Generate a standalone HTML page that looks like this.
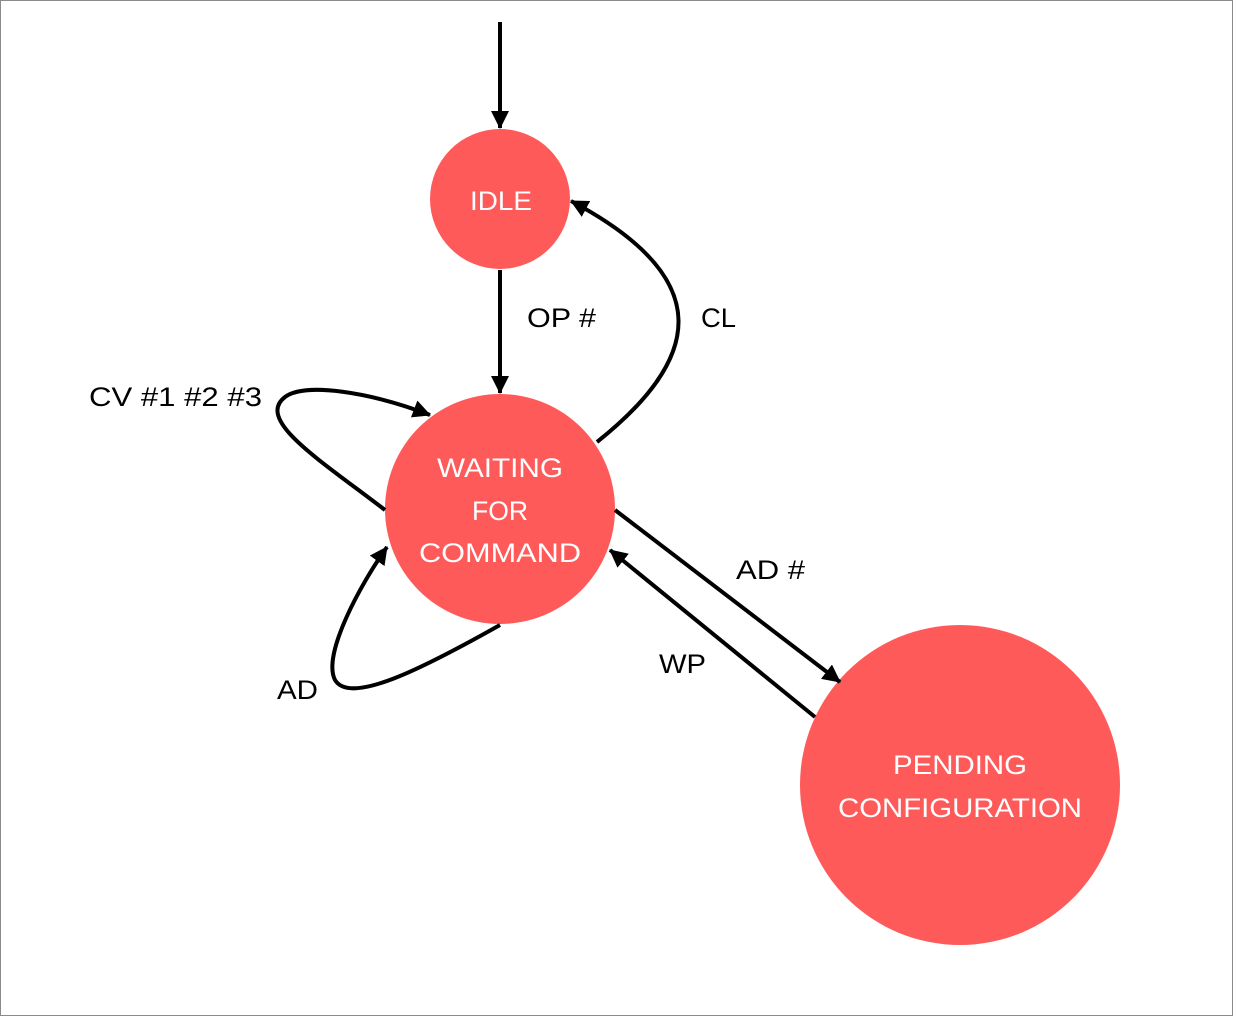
<!DOCTYPE html>
<html><head><meta charset="utf-8"><style>
html,body{margin:0;padding:0;background:#fff}
svg{display:block}
text{font-family:"Liberation Sans",sans-serif;font-size:27px}
</style></head><body>
<svg width="1233" height="1016" viewBox="0 0 1233 1016">
<defs>
<marker id="a" markerUnits="userSpaceOnUse" markerWidth="22" markerHeight="22" refX="17" refY="9" orient="auto">
<path d="M0,0 L18,9 L0,18 Z" fill="#000"/>
</marker>
</defs>
<rect x="0.5" y="0.5" width="1232" height="1015" fill="#fff" stroke="#8a8a8a"/>
<circle cx="500" cy="199" r="70" fill="#ff5a5a"/>
<circle cx="500" cy="509" r="115" fill="#ff5a5a"/>
<circle cx="960" cy="785" r="160" fill="#ff5a5a"/>
<g fill="none" stroke="#000" stroke-width="4">
<path d="M500,22 L500,128" marker-end="url(#a)"/>
<path d="M500,270 L500,393" marker-end="url(#a)"/>
<path d="M597,442 C700,360 720,280 571,201" marker-end="url(#a)"/>
<path d="M385,510 C320,460 255,420 285,397 C305,382 370,392 430,415" marker-end="url(#a)"/>
<path d="M500,625 C420,670 350,705 335,680 C322,655 360,585 387,547" marker-end="url(#a)"/>
<path d="M615,510 L840,682" marker-end="url(#a)"/>
<path d="M815,717 L610,550" marker-end="url(#a)"/>
</g>
<g fill="#fff">
<text x="470" y="210" textLength="62" lengthAdjust="spacingAndGlyphs">IDLE</text>
<text x="437" y="477" textLength="126" lengthAdjust="spacingAndGlyphs">WAITING</text>
<text x="472" y="520" textLength="56" lengthAdjust="spacingAndGlyphs">FOR</text>
<text x="419" y="562" textLength="162" lengthAdjust="spacingAndGlyphs">COMMAND</text>
<text x="893" y="774" textLength="134" lengthAdjust="spacingAndGlyphs">PENDING</text>
<text x="838" y="817" textLength="244" lengthAdjust="spacingAndGlyphs">CONFIGURATION</text>
</g>
<g fill="#000">
<text x="527" y="327" textLength="69" lengthAdjust="spacingAndGlyphs">OP #</text>
<text x="701" y="327" textLength="35" lengthAdjust="spacingAndGlyphs">CL</text>
<text x="89" y="406" textLength="173" lengthAdjust="spacingAndGlyphs">CV #1 #2 #3</text>
<text x="277" y="699" textLength="41" lengthAdjust="spacingAndGlyphs">AD</text>
<text x="736" y="579" textLength="69" lengthAdjust="spacingAndGlyphs">AD #</text>
<text x="659" y="673" textLength="47" lengthAdjust="spacingAndGlyphs">WP</text>
</g>
</svg>
</body></html>
